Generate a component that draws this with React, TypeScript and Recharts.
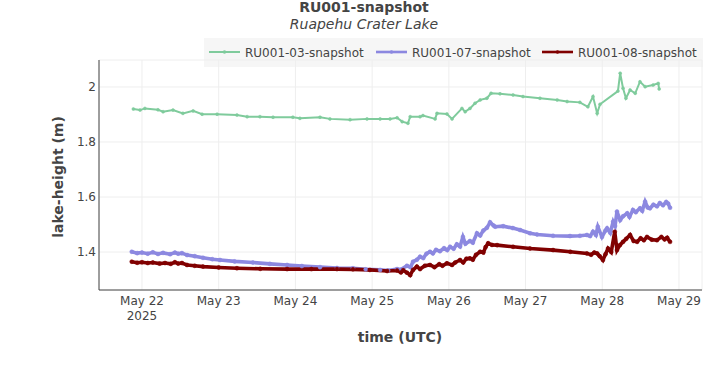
import React from 'react';
import { LineChart, Line, XAxis, YAxis, CartesianGrid } from 'recharts';

// time base: hours since 2025-05-22 00:00 UTC
const BASE = Date.UTC(2025, 4, 22);
const HOUR = 3600000;

const seriesNames = ['RU001-03-snapshot', 'RU001-07-snapshot', 'RU001-08-snapshot'];
const seriesColors = ['#7fcb9c', '#8c88e0', '#800000'];

const ru03Hours = [-2.7, -0.6, 0.9, 5.0, 6.6, 9.7, 12.8, 16.0, 18.8, 23.5, 29.7, 32.9, 36.9, 41.0, 47.2, 49.4, 55.7, 58.8, 65.1, 70.4, 74.5, 77.6, 79.8, 81.4, 83.2, 83.9, 87.0, 87.9, 91.7, 92.3, 95.4, 97.0, 100.1, 101.1, 102.6, 104.2, 105.8, 107.9, 109.2, 112.0, 116.1, 119.2, 124.5, 129.9, 133.0, 137.0, 139.5, 141.1, 142.4, 143.3, 148.9, 149.6, 150.5, 151.4, 152.7, 154.3, 155.8, 157.4, 159.9, 161.5, 161.8];
const ru03Values = [1.920, 1.916, 1.922, 1.917, 1.910, 1.916, 1.904, 1.913, 1.901, 1.901, 1.898, 1.892, 1.892, 1.890, 1.890, 1.886, 1.890, 1.884, 1.881, 1.884, 1.884, 1.884, 1.888, 1.874, 1.868, 1.892, 1.892, 1.896, 1.884, 1.904, 1.902, 1.884, 1.922, 1.910, 1.922, 1.941, 1.953, 1.959, 1.977, 1.975, 1.971, 1.965, 1.959, 1.953, 1.947, 1.944, 1.928, 1.965, 1.904, 1.937, 1.985, 2.050, 1.995, 1.959, 1.989, 1.977, 2.019, 2.001, 2.007, 2.013, 1.993];

const ru07Hours = [-3.2, -1.5, 0.0, 1.8, 3.4, 5.0, 6.6, 8.8, 10.3, 11.3, 12.5, 14.1, 16.5, 19.1, 22.0, 24.4, 29.0, 34.7, 40.0, 45.4, 50.0, 55.7, 61.0, 66.0, 70.0, 74.5, 77.0, 79.8, 81.0, 82.9, 84.0, 84.8, 86.0, 87.0, 88.0, 89.0, 90.1, 91.0, 92.0, 93.2, 94.5, 95.5, 96.4, 97.5, 98.5, 99.5, 100.4, 101.2, 102.6, 103.5, 104.8, 105.8, 106.8, 107.9, 108.9, 110.0, 110.5, 113.0, 116.0, 118.3, 121.4, 123.6, 128.6, 133.9, 137.0, 139.2, 140.2, 141.1, 142.0, 142.6, 143.9, 145.0, 145.5, 146.5, 147.4, 148.0, 148.6, 149.6, 150.5, 151.8, 152.5, 153.6, 154.5, 155.8, 156.5, 157.4, 158.2, 158.9, 160.0, 161.1, 162.0, 163.0, 164.0, 164.6, 165.2];
const ru07Values = [1.401, 1.396, 1.398, 1.394, 1.399, 1.393, 1.397, 1.392, 1.398, 1.394, 1.396, 1.389, 1.385, 1.379, 1.374, 1.371, 1.366, 1.362, 1.357, 1.353, 1.349, 1.345, 1.342, 1.341, 1.337, 1.335, 1.333, 1.338, 1.336, 1.350, 1.345, 1.365, 1.372, 1.383, 1.378, 1.394, 1.401, 1.395, 1.408, 1.403, 1.414, 1.407, 1.419, 1.412, 1.428, 1.420, 1.455, 1.430, 1.440, 1.434, 1.468, 1.460, 1.478, 1.488, 1.508, 1.496, 1.492, 1.494, 1.487, 1.480, 1.468, 1.464, 1.459, 1.458, 1.459, 1.462, 1.458, 1.474, 1.462, 1.492, 1.455, 1.478, 1.486, 1.470, 1.510, 1.495, 1.547, 1.516, 1.530, 1.541, 1.528, 1.553, 1.545, 1.559, 1.550, 1.583, 1.562, 1.559, 1.572, 1.566, 1.578, 1.570, 1.582, 1.576, 1.561];

const ru08Hours = [-3.2, -1.5, 0.0, 1.8, 3.4, 5.5, 7.2, 9.0, 10.3, 11.3, 12.5, 14.1, 16.5, 19.1, 24.0, 29.7, 37.0, 45.4, 53.0, 61.0, 66.0, 71.3, 76.7, 79.8, 81.0, 81.7, 82.9, 83.9, 84.8, 86.0, 87.0, 88.5, 90.1, 91.5, 93.0, 94.0, 95.4, 97.0, 98.0, 99.5, 100.5, 101.5, 102.6, 103.5, 104.5, 105.8, 106.8, 107.5, 108.3, 109.5, 111.1, 116.1, 121.4, 128.6, 134.0, 139.2, 140.5, 141.5, 142.4, 143.2, 144.2, 145.0, 145.8, 146.8, 147.9, 148.6, 149.5, 150.5, 151.5, 152.7, 153.8, 154.9, 156.0, 157.0, 158.0, 159.5, 161.1, 162.5, 163.5, 164.3, 165.2];
const ru08Values = [1.365, 1.361, 1.363, 1.360, 1.362, 1.358, 1.360, 1.357, 1.363, 1.358, 1.360, 1.353, 1.350, 1.347, 1.344, 1.341, 1.339, 1.338, 1.338, 1.338, 1.337, 1.335, 1.331, 1.333, 1.326, 1.334, 1.325, 1.316, 1.335, 1.347, 1.338, 1.350, 1.353, 1.345, 1.356, 1.350, 1.359, 1.353, 1.362, 1.371, 1.362, 1.376, 1.377, 1.372, 1.390, 1.401, 1.398, 1.418, 1.432, 1.426, 1.425, 1.419, 1.413, 1.407, 1.401, 1.395, 1.390, 1.398, 1.395, 1.385, 1.371, 1.392, 1.413, 1.400, 1.474, 1.407, 1.425, 1.437, 1.448, 1.462, 1.440, 1.437, 1.450, 1.443, 1.455, 1.445, 1.443, 1.455, 1.446, 1.452, 1.437];

const tickDays = [0, 1, 2, 3, 4, 5, 6, 7];
const tickLabels = ['May 22', 'May 23', 'May 24', 'May 25', 'May 26', 'May 27', 'May 28', 'May 29'];
const yTicks = [1.4, 1.6, 1.8, 2];

const xDomainHours = [-13.45, 175.2];
const yDomain = [1.262, 2.098];

const toPoints = (hours: number[], values: number[]) =>
  hours.map((h, i) => ({ t: BASE + h * HOUR, v: values[i] }));

const seriesData = [
  toPoints(ru03Hours, ru03Values),
  toPoints(ru07Hours, ru07Values),
  toPoints(ru08Hours, ru08Values),
];

const xTicks = tickDays.map((d) => BASE + d * 24 * HOUR);

const FONT = '"DejaVu Sans", Verdana, sans-serif';
const TEXT = '#444';

const XTick = (props: any) => {
  const { x, y, payload } = props;
  const idx = xTicks.indexOf(payload.value);
  return (
    <g>
      <text x={x} y={y + 15} textAnchor="middle" fill={TEXT} fontSize={12} fontFamily={FONT}>
        {tickLabels[idx]}
      </text>
      {idx === 0 && (
        <text x={x} y={y + 30} textAnchor="middle" fill={TEXT} fontSize={12} fontFamily={FONT}>
          2025
        </text>
      )}
    </g>
  );
};

const legendX = [209, 376, 542];

export default function App() {
  return (
    <div style={{ position: 'absolute', left: 0, top: 0, width: 728, height: 370, background: '#fff', fontFamily: FONT }}>
      <LineChart
        width={728}
        height={370}
        margin={{ top: 60, right: 26, bottom: 50, left: 39 }}
      >
        <CartesianGrid stroke="#eeeeee" strokeWidth={1} />
        <XAxis
          type="number"
          dataKey="t"
          domain={[BASE + xDomainHours[0] * HOUR, BASE + xDomainHours[1] * HOUR]}
          ticks={xTicks}
          interval={0}
          allowDataOverflow
          tickLine={false}
          tickSize={0}
          tickMargin={0}
          height={30}
          axisLine={{ stroke: TEXT, strokeWidth: 1 }}
          tick={<XTick />}
        />
        <YAxis
          type="number"
          dataKey="v"
          domain={yDomain}
          ticks={yTicks}
          interval={0}
          allowDataOverflow
          tickLine={false}
          tickSize={0}
          tickMargin={3}
          width={60}
          axisLine={{ stroke: TEXT, strokeWidth: 1 }}
          tick={{ fill: TEXT, fontSize: 12, fontFamily: FONT }}
          tickFormatter={(v: number) => String(v)}
        />
        {seriesData.map((d, i) => (
          <Line
            key={seriesNames[i]}
            data={d}
            dataKey="v"
            name={seriesNames[i]}
            type="linear"
            stroke={seriesColors[i]}
            strokeWidth={i === 0 ? 2 : 3.6}
            dot={{ r: i === 0 ? 1.5 : 2, fill: seriesColors[i], stroke: seriesColors[i], strokeWidth: 0.5 }}
            activeDot={false}
            isAnimationActive={false}
          />
        ))}
      </LineChart>
      <svg width={728} height={370} style={{ position: 'absolute', left: 0, top: 0, pointerEvents: 'none' }}>
        <text x={364} y={12} textAnchor="middle" fontSize={14} fontWeight="bold" fill={TEXT} fontFamily={FONT}>
          RU001-snapshot
        </text>
        <text x={364} y={29} textAnchor="middle" fontSize={14} fontStyle="italic" fill={TEXT} fontFamily={FONT}>
          Ruapehu Crater Lake
        </text>
        <rect x={204} y={38} width={499} height={29} fill="#eeeeee" fillOpacity={0.55} />
        {seriesNames.map((n, i) => (
          <g key={n}>
            <line x1={legendX[i]} x2={legendX[i] + 31} y1={52} y2={52} stroke={seriesColors[i]} strokeWidth={i === 0 ? 2 : 2.6} />
            <circle cx={legendX[i] + 15.5} cy={52} r={1.8} fill={seriesColors[i]} />
            <text x={legendX[i] + 36} y={56.5} fontSize={12} fill={TEXT} fontFamily={FONT}>
              {n}
            </text>
          </g>
        ))}
        <text
          x={63}
          y={177}
          textAnchor="middle"
          fontSize={14}
          fontWeight="bold"
          fill={TEXT}
          fontFamily={FONT}
          transform="rotate(-90 63 177)"
        >
          lake-height (m)
        </text>
        <text x={400} y={342} textAnchor="middle" fontSize={14} fontWeight="bold" fill={TEXT} fontFamily={FONT}>
          time (UTC)
        </text>
      </svg>
    </div>
  );
}
